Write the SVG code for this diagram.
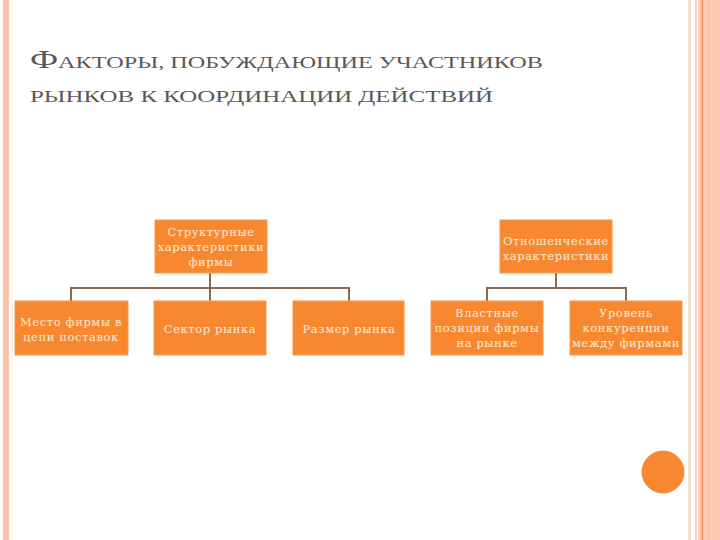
<svg xmlns="http://www.w3.org/2000/svg" width="720" height="540" viewBox="0 0 720 540">
<style>
.title{font-family:"Liberation Serif","DejaVu Serif",serif;fill:#595959;}
.box{fill:#F7882F;stroke:#F39A55;stroke-width:1;}
.lbl{font-family:"DejaVu Serif","Liberation Serif",serif;font-size:11.5px;letter-spacing:0.6px;fill:#FCEBD8;text-anchor:middle;}
.conn{fill:none;stroke:#8A6A52;stroke-width:2;}
</style>
<rect x="0" y="0" width="720" height="540" fill="#ffffff"/>
<!-- left border -->
<rect x="3" y="0" width="6" height="540" fill="#FAC3AC"/>
<rect x="12" y="0" width="1" height="540" fill="#FDF1E6"/>
<!-- right border -->
<rect x="688" y="0" width="3" height="540" fill="#F6DFCD"/>
<rect x="695" y="0" width="2" height="540" fill="#F6D6C2"/>
<rect x="698" y="0" width="22" height="540" fill="#FCC9B3"/>
<rect x="701.5" y="0" width="1.5" height="540" fill="#EE8A62"/>
<rect x="708" y="0" width="1" height="540" fill="#F9B89C"/>

<g id="title">
<text class="title" x="30" y="68" font-size="17" textLength="513" lengthAdjust="spacingAndGlyphs"><tspan font-size="25">Ф</tspan>АКТОРЫ, ПОБУЖДАЮЩИЕ УЧАСТНИКОВ</text>
<text class="title" x="30" y="102" font-size="17" textLength="463" lengthAdjust="spacingAndGlyphs">РЫНКОВ К КООРДИНАЦИИ ДЕЙСТВИЙ</text>
</g>

<g id="connectors">
<path class="conn" d="M210 273 V301 M71 301 V288 H349 V301"/>
<path class="conn" d="M556 273 V288 M487 301 V288 H626 V301"/>
</g>

<g id="node-struct">
<rect class="box" x="155" y="220" width="112" height="53"/>
<text class="lbl" x="211" y="236">Структурные</text>
<text class="lbl" x="211" y="251">характеристики</text>
<text class="lbl" x="211" y="266">фирмы</text>
</g>
<g id="node-rel">
<rect class="box" x="500" y="220" width="112" height="53"/>
<text class="lbl" x="556" y="245">Отношенческие</text>
<text class="lbl" x="556" y="260">характеристики</text>
</g>
<g id="node-place">
<rect class="box" x="15" y="301" width="113" height="54"/>
<text class="lbl" x="71" y="326">Место фирмы в</text>
<text class="lbl" x="71" y="341">цепи поставок</text>
</g>
<g id="node-sector">
<rect class="box" x="154" y="301" width="112" height="54"/>
<text class="lbl" x="210" y="333">Сектор рынка</text>
</g>
<g id="node-size">
<rect class="box" x="293" y="301" width="111" height="54"/>
<text class="lbl" x="349" y="333">Размер рынка</text>
</g>
<g id="node-power">
<rect class="box" x="431" y="301" width="112" height="54"/>
<text class="lbl" x="487" y="317">Властные</text>
<text class="lbl" x="487" y="332">позиции фирмы</text>
<text class="lbl" x="487" y="347">на рынке</text>
</g>
<g id="node-compet">
<rect class="box" x="570" y="301" width="112" height="54"/>
<text class="lbl" x="626" y="317">Уровень</text>
<text class="lbl" x="626" y="332">конкуренции</text>
<text class="lbl" x="626" y="347">между фирмами</text>
</g>

<circle cx="663" cy="472" r="21" fill="#F7882F" stroke="#EE8A45" stroke-width="1"/>
</svg>
